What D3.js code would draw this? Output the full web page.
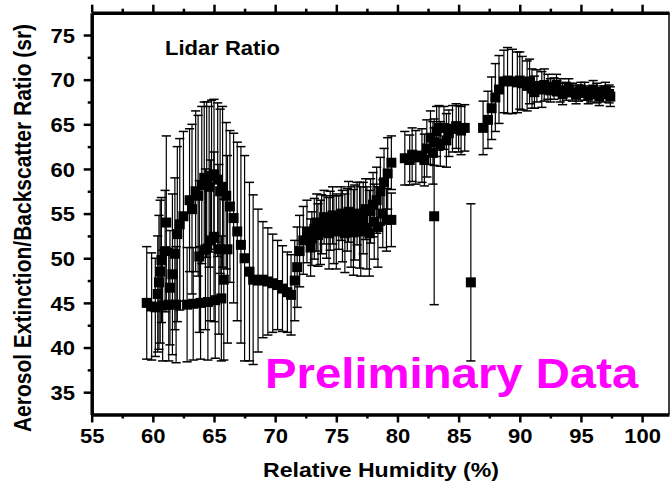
<!DOCTYPE html>
<html>
<head>
<meta charset="utf-8">
<title>Lidar Ratio</title>
<script src="https://d3js.org/d3.v7.min.js"></script>
<style>
  body { margin: 0; background: #fff; }
  text { font-family: "Liberation Sans", Arial, sans-serif; font-weight: bold; }
</style>
</head>
<body>
<script>
// relative humidity (%)
var rh = [59.5, 59.9, 60.2, 60.4, 60.5, 60.6, 60.7, 60.8, 61.0, 61.1, 61.3, 61.4, 61.6, 61.8, 62.0, 61.9,
          62.5, 62.8, 63.0, 63.3, 63.5, 63.8, 63.9, 64.0, 64.4, 64.5, 64.8, 65.0, 65.1, 65.3, 65.6, 65.7,
          65.8, 66.0, 66.1, 66.3, 66.6, 66.9, 67.2, 67.5, 67.9, 68.2, 68.6, 69.0, 69.4, 69.8, 70.2, 70.6,
          71.0, 71.3, 71.6, 71.8, 72.0, 72.3, 72.9, 72.6,
          62.2, 63.2, 63.7, 64.2, 64.6, 65.0, 65.5, 64.3, 64.7, 65.4,
          73.2, 73.5, 73.8, 74.2, 74.5, 74.8, 75.2, 75.5, 75.9, 76.2, 76.5, 76.9, 77.2, 77.5, 77.8, 78.1,
          73.0, 73.4, 73.7, 74.0, 74.4, 74.7, 75.0, 75.4, 75.7, 76.0, 76.4, 76.7, 77.0, 77.4, 77.7, 78.0,
          78.4, 78.8, 79.1,
          78.3, 78.6, 78.9, 79.2, 79.5, 79.5,
          80.6, 81.0, 81.5, 82.0, 82.4, 82.7, 82.9, 83.0, 83.2, 83.5, 83.8, 84.0, 84.5, 85.0, 85.5, 86.0,
          81.2, 82.2, 83.0, 83.4, 84.2, 84.8, 85.2,
          87.0, 87.4, 87.7, 88.0, 88.3, 88.7, 89.0, 89.4, 89.8, 90.2, 90.6, 91.0, 91.4, 91.8, 92.3, 92.8,
          93.3, 93.8, 94.3, 94.8, 95.3, 95.8, 96.3, 96.8, 97.3,
          90.0, 90.8, 91.2, 92.0, 92.5, 93.0, 93.5, 94.0, 94.6, 95.0, 95.6, 96.0, 96.5, 97.0, 97.4];

// lidar ratio (sr)
var ratio = [45.0, 44.6, 44.5, 46.0, 47.3, 48.5, 49.8, 44.7, 50.8, 54.0, 44.8, 46.7, 48.2, 50.5, 52.7, 44.8,
             54.7, 44.8, 56.5, 44.9, 57.5, 50.2, 45.0, 58.2, 58.8, 45.1, 59.2, 52.4, 45.3, 58.8, 45.5, 58.0,
             47.6, 57.0, 51.0, 55.8, 54.5, 53.0, 51.5, 50.0, 48.5, 47.6, 47.5, 47.6, 47.4, 47.2, 47.0, 46.6,
             46.2, 45.9, 47.5, 49.0, 50.8, 52.0, 51.2, 53.0,
             53.8, 55.5, 57.0, 59.0, 58.0, 59.4, 57.5, 51.0, 52.0, 51.0,
             53.3, 52.6, 53.8, 53.5, 54.2, 53.2, 54.0, 53.6, 54.3, 53.5, 54.0, 53.7, 54.5, 53.4, 55.3, 54.1,
             52.2, 54.0, 52.9, 54.6, 52.8, 54.8, 53.0, 55.0, 52.8, 55.2, 52.9, 55.0, 53.0, 55.5, 52.8, 56.0,
             53.5, 55.0, 54.3,
             56.5, 57.5, 58.5, 59.5, 60.7, 54.3,
             61.2, 61.0, 61.3, 61.5, 62.3, 63.5, 61.8, 54.7, 64.2, 62.8, 64.6, 63.2, 64.5, 64.5, 64.6, 47.3,
             61.6, 61.0, 63.0, 64.6, 64.0, 64.8, 64.3,
             64.6, 65.5, 66.8, 68.0, 68.9, 69.8, 69.9, 69.8, 69.7, 69.6, 69.3, 69.0, 69.3, 68.9, 69.2, 69.0,
             68.8, 68.7, 68.6, 68.5, 68.7, 68.4, 68.5, 68.4, 68.4,
             69.9, 69.8, 68.6, 69.4, 68.8, 69.4, 68.4, 69.1, 68.3, 68.9, 68.2, 68.9, 68.1, 68.8, 68.1];

// error (+/-, sr)
var err = [6.3, 6.0, 5.5, 6.5, 7.5, 8.0, 7.0, 6.2, 6.8, 9.7, 6.3, 6.4, 9.0, 8.5, 9.8, 6.5,
           9.5, 6.4, 8.0, 6.3, 9.0, 8.5, 6.3, 8.8, 8.7, 6.5, 8.5, 9.5, 6.5, 8.6, 7.0, 9.0,
           9.0, 8.2, 10.5, 8.5, 9.5, 10.0, 11.0, 11.5, 10.0, 9.5, 8.0, 6.5, 6.0, 5.5, 5.0, 4.8,
           4.5, 4.5, 4.5, 4.5, 4.0, 3.8, 3.2, 3.5,
           9.6, 9.5, 9.0, 8.5, 9.0, 8.4, 9.2, 9.0, 9.0, 9.5,
           3.4, 3.5, 3.3, 3.5, 3.3, 3.8, 3.0, 4.0, 3.5, 4.5, 4.2, 4.8, 4.0, 4.6, 3.6, 4.2,
           3.0, 3.2, 3.6, 3.0, 4.0, 3.2, 4.2, 3.0, 4.4, 3.4, 4.8, 3.5, 5.0, 3.4, 4.8, 3.6,
           4.5, 3.8, 3.5,
           3.7, 3.8, 3.8, 4.0, 3.0, 3.0,
           3.0, 2.8, 3.0, 3.0, 3.2, 3.0, 3.5, 9.9, 2.8, 2.5, 2.4, 3.0, 2.6, 2.6, 2.6, 8.8,
           3.0, 2.9, 2.6, 2.5, 2.6, 2.5, 2.7,
           3.0, 3.2, 3.5, 3.8, 3.8, 3.5, 3.7, 3.6, 3.4, 3.0, 2.8, 2.2, 1.8, 2.0, 1.4, 1.2,
           1.3, 1.0, 1.0, 0.9, 1.0, 0.9, 1.1, 0.9, 1.0,
           3.2, 2.5, 1.8, 1.8, 1.3, 1.2, 1.2, 1.0, 1.0, 0.8, 0.9, 1.0, 1.0, 0.9, 1.1];

var xTicks = [55, 60, 65, 70, 75, 80, 85, 90, 95, 100];
var xMinor = [57.5, 62.5, 67.5, 72.5, 77.5, 82.5, 87.5, 92.5, 97.5];
var yTicks = [35, 40, 45, 50, 55, 60, 65, 70, 75];
var yMinor = [37.5, 42.5, 47.5, 52.5, 57.5, 62.5, 67.5, 72.5];

var W = 672, H = 485;
var pLeft = 91.7, pRight = 669, pTop = 12.7, pBottom = 414.5;
var stretch = 1.1;

var svg = d3.select("body").append("svg")
    .attr("width", W)
    .attr("height", H);

var x = d3.scaleLinear().domain([55, 102.2]).range([pLeft, pRight]);
var y = d3.scaleLinear().domain([32.5, 77.5]).range([pBottom, pTop]);

var data = rh.map(function(d, i){ return {x: d, y: ratio[i], e: err[i]}; });

// error bars
var bars = svg.append("g").attr("stroke", "#000").attr("fill", "none");
var cap = 4.6;
data.forEach(function(d){
  var cx = x(d.x);
  bars.append("line").attr("x1", cx).attr("x2", cx)
      .attr("y1", y(d.y - d.e)).attr("y2", y(d.y + d.e))
      .attr("stroke-width", 1.2);
  bars.append("line").attr("x1", cx - cap).attr("x2", cx + cap)
      .attr("y1", y(d.y + d.e)).attr("y2", y(d.y + d.e))
      .attr("stroke-width", 1.5);
  bars.append("line").attr("x1", cx - cap).attr("x2", cx + cap)
      .attr("y1", y(d.y - d.e)).attr("y2", y(d.y - d.e))
      .attr("stroke-width", 1.5);
});

// square markers
var sz = 10;
svg.append("g").selectAll("rect").data(data).enter()
  .append("rect")
    .attr("x", function(d){ return x(d.x) - sz/2; })
    .attr("y", function(d){ return y(d.y) - sz/2; })
    .attr("width", sz)
    .attr("height", sz)
    .attr("fill", "#000");

// axes
function styleAxis(g, w){
  g.select(".domain").attr("stroke-width", w);
  g.selectAll(".tick line").attr("stroke-width", 2.5);
  g.selectAll("text").attr("font-size", 20).attr("font-weight", "bold")
    .attr("font-family", "'Liberation Sans', Arial, sans-serif").attr("fill", "#000");
}
function minorTicks(g){
  g.select(".domain").remove();
  g.selectAll(".tick line").attr("stroke-width", 2.5);
}

var gx = svg.append("g").attr("transform", "translate(0," + pBottom + ")")
  .call(d3.axisBottom(x).tickValues(xTicks).tickSize(8).tickSizeOuter(0).tickPadding(6.3));
styleAxis(gx, 3.5);
gx.selectAll("text").attr("transform", "scale(" + stretch + ",1)");
svg.append("g").attr("transform", "translate(0," + pBottom + ")")
  .call(d3.axisBottom(x).tickValues(xMinor).tickSize(4).tickSizeOuter(0).tickFormat(""))
  .call(minorTicks);

var gxt = svg.append("g").attr("transform", "translate(0," + pTop + ")")
  .call(d3.axisTop(x).tickValues(xTicks).tickSize(8).tickSizeOuter(0).tickFormat(""));
styleAxis(gxt, 3.5);
svg.append("g").attr("transform", "translate(0," + pTop + ")")
  .call(d3.axisTop(x).tickValues(xMinor).tickSize(4).tickSizeOuter(0).tickFormat(""))
  .call(minorTicks);

var gy = svg.append("g").attr("transform", "translate(" + pLeft + ",0)")
  .call(d3.axisLeft(y).tickValues(yTicks).tickSize(8).tickSizeOuter(0).tickPadding(7.2));
styleAxis(gy, 3.5);
gy.selectAll("text").attr("transform", "scale(" + stretch + ",1)").attr("dy", "0.36em");
svg.append("g").attr("transform", "translate(" + pLeft + ",0)")
  .call(d3.axisLeft(y).tickValues(yMinor).tickSize(4).tickSizeOuter(0).tickFormat(""))
  .call(minorTicks);

svg.append("line")
  .attr("x1", pRight).attr("x2", pRight)
  .attr("y1", pTop).attr("y2", pBottom)
  .attr("stroke", "#000").attr("stroke-width", 1.5);

// titles
svg.append("text")
  .attr("transform", "translate(381,477) scale(" + stretch + ",1)")
  .attr("text-anchor", "middle")
  .attr("font-size", 21)
  .text("Relative Humidity (%)");

svg.append("text")
  .attr("transform", "translate(31,228) scale(" + stretch + ",1) rotate(-90)")
  .attr("text-anchor", "middle")
  .attr("font-size", 21)
  .text("Aerosol Extinction/Backscatter Ratio (sr)");

svg.append("text")
  .attr("transform", "translate(165,55) scale(" + stretch + ",1)")
  .attr("font-size", 20)
  .text("Lidar Ratio");

svg.append("text")
  .attr("transform", "translate(265,388) scale(" + stretch + ",1)")
  .attr("font-size", 43)
  .attr("fill", "#ff00ff")
  .text("Preliminary Data");
</script>
</body>
</html>
